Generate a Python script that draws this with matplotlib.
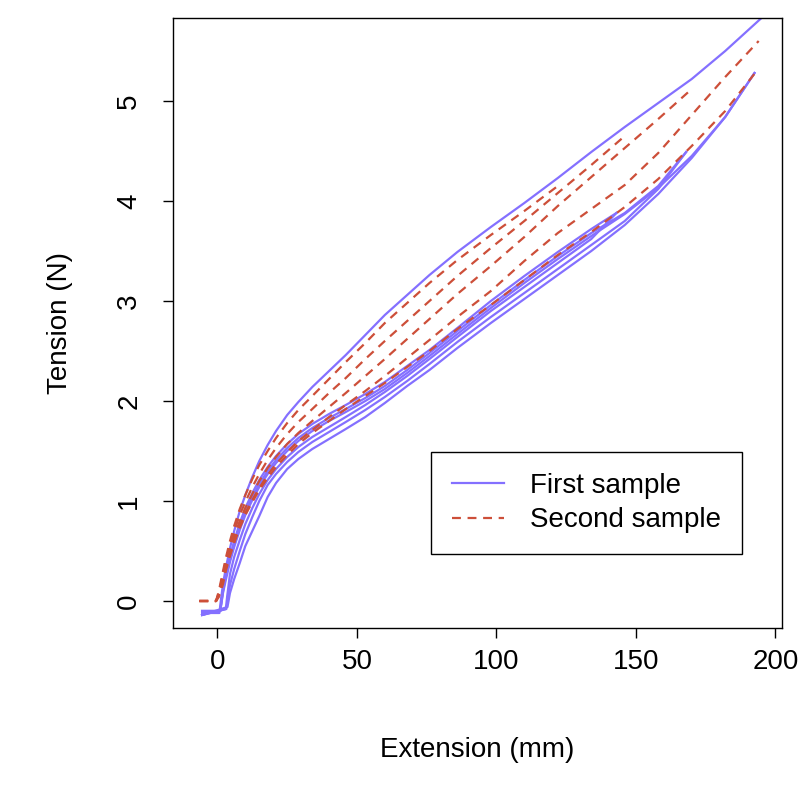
import matplotlib
matplotlib.use("Agg")
import matplotlib.pyplot as plt

plt.rcParams['font.family'] = ['Liberation Sans', 'DejaVu Sans']

# First sample: virgin loading curve, then softened load/unload cycles (to 145, 170, 195 mm)
first_x = [
    [-5.5, 0.7, 1.2, 2, 3, 4.5, 6, 8, 10, 12.5, 15, 18, 21, 25, 29, 34, 40, 46, 53, 60, 68, 76, 86, 98,
     110, 122, 134, 146, 158, 170, 182, 195],
    [-5.5, 1, 2, 3, 4.5, 6, 8, 10, 12.5, 15, 18, 21, 25, 29, 34, 40, 46, 53, 60, 68, 76, 86, 98,
     110, 122, 134, 143],
    [143, 134, 122, 110, 98, 86, 76, 68, 60, 53, 46, 40, 34, 29, 25, 21, 18, 15, 12.5, 10, 8, 6, 4.5,
     3.5, 3, -5.5],
    [-5.5, 1, 2, 3, 4.5, 6, 8, 10, 12.5, 15, 18, 21, 25, 29, 34, 40, 46, 53, 60, 68, 76, 86, 98,
     110, 122, 134, 146, 158, 168],
    [168, 158, 146, 134, 122, 110, 98, 86, 76, 68, 60, 53, 46, 40, 34, 29, 25, 21, 18, 15, 12.5, 10, 8,
     6, 4.5, 3.6, 3.2, -5.5],
    [-5.5, 1, 2, 3, 4.5, 6, 8, 10, 12.5, 15, 18, 21, 25, 29, 34, 40, 46, 53, 60, 68, 76, 86, 98,
     110, 122, 134, 146, 158, 170, 182, 192.5],
    [192.5, 182, 170, 158, 146, 134, 122, 110, 98, 86, 76, 68, 60, 53, 46, 40, 34, 29, 25, 21, 18, 15,
     12.5, 10, 8, 6, 4.5, 3.6, -5.5],
]
first_y = [
    [-0.12, -0.12, 0.0, 0.17, 0.33, 0.53, 0.7, 0.9, 1.06, 1.24, 1.4, 1.56, 1.7, 1.86, 1.99, 2.14, 2.3,
     2.46, 2.66, 2.86, 3.06, 3.26, 3.49, 3.74, 3.98, 4.23, 4.49, 4.74, 4.98, 5.22, 5.5, 5.83],
    [-0.1, -0.1, 0.12, 0.27, 0.45, 0.6, 0.78, 0.93, 1.08, 1.21, 1.34, 1.45, 1.57, 1.67, 1.77, 1.87,
     1.96, 2.07, 2.19, 2.35, 2.51, 2.73, 3.0, 3.25, 3.49, 3.72, 3.88],
    [3.88, 3.62, 3.38, 3.14, 2.9, 2.64, 2.42, 2.25, 2.09, 1.96, 1.84, 1.74, 1.64, 1.54, 1.44, 1.32,
     1.21, 1.07, 0.93, 0.77, 0.61, 0.44, 0.27, 0.05, -0.08, -0.14],
    [-0.1, -0.1, 0.1, 0.24, 0.42, 0.57, 0.74, 0.89, 1.04, 1.17, 1.3, 1.41, 1.53, 1.63, 1.73, 1.83,
     1.92, 2.03, 2.15, 2.31, 2.48, 2.7, 2.96, 3.21, 3.45, 3.68, 3.88, 4.15, 4.49],
    [4.49, 4.12, 3.8, 3.56, 3.32, 3.08, 2.84, 2.59, 2.37, 2.2, 2.04, 1.91, 1.79, 1.69, 1.59, 1.49,
     1.39, 1.27, 1.16, 1.0, 0.84, 0.67, 0.5, 0.32, 0.16, 0.0, -0.08, -0.14],
    [-0.1, -0.1, 0.08, 0.21, 0.39, 0.54, 0.71, 0.86, 1.01, 1.14, 1.27, 1.38, 1.5, 1.6, 1.7, 1.8,
     1.89, 2.0, 2.12, 2.28, 2.45, 2.67, 2.93, 3.18, 3.42, 3.65, 3.87, 4.13, 4.45, 4.84, 5.28],
    [5.28, 4.84, 4.43, 4.07, 3.76, 3.5, 3.26, 3.02, 2.78, 2.53, 2.31, 2.15, 1.98, 1.84, 1.72, 1.62,
     1.52, 1.42, 1.32, 1.18, 1.04, 0.85, 0.7, 0.55, 0.38, 0.22, 0.08, -0.06, -0.14],
]

# Second sample: loading curves to increasing extensions (122, 146, 170, 194 mm) and last reload
second_x = [
    [-6.5, -0.5, 0.5, 2, 3, 4.5, 6, 8, 10, 12.5, 15, 18, 21, 25, 29, 34, 40, 46, 53, 60, 68, 76, 86,
     98, 110, 122],
    [-6.5, -0.5, 0.5, 2, 3, 4.5, 6, 8, 10, 12.5, 15, 18, 21, 25, 29, 34, 40, 46, 53, 60, 68, 76, 86,
     98, 110, 122, 134, 146],
    [-6.5, -0.5, 0.5, 2, 3, 4.5, 6, 8, 10, 12.5, 15, 18, 21, 25, 29, 34, 40, 46, 53, 60, 68, 76, 86,
     98, 110, 122, 134, 146, 158, 170],
    [-6.5, -0.5, 0.5, 2, 3, 4.5, 6, 8, 10, 12.5, 15, 18, 21, 25, 29, 34, 40, 46, 53, 60, 68, 76, 86,
     98, 110, 122, 134, 146, 158, 170, 182, 194],
    [-6.5, -0.5, 0.5, 2, 3, 4.5, 6, 8, 10, 12.5, 15, 18, 21, 25, 29, 34, 40, 46, 53, 60, 68, 76, 86,
     98, 110, 122, 134, 146, 158, 170, 182, 193],
]
second_y = [
    [0, 0, 0.1, 0.3, 0.43, 0.6, 0.75, 0.92, 1.06, 1.22, 1.36, 1.5, 1.63, 1.78, 1.91, 2.05, 2.22, 2.39,
     2.58, 2.78, 2.98, 3.18, 3.41, 3.66, 3.9, 4.15],
    [0, 0, 0.08, 0.27, 0.4, 0.56, 0.7, 0.86, 0.99, 1.14, 1.27, 1.41, 1.53, 1.67, 1.79, 1.92, 2.08,
     2.23, 2.42, 2.6, 2.8, 3.0, 3.25, 3.53, 3.8, 4.08, 4.36, 4.65],
    [0, 0, 0.07, 0.24, 0.36, 0.52, 0.65, 0.8, 0.93, 1.07, 1.2, 1.33, 1.44, 1.57, 1.68, 1.8, 1.94,
     2.08, 2.25, 2.42, 2.62, 2.82, 3.07, 3.35, 3.64, 3.95, 4.24, 4.53, 4.82, 5.12],
    [0, 0, 0.06, 0.21, 0.33, 0.48, 0.61, 0.75, 0.88, 1.01, 1.13, 1.26, 1.37, 1.49, 1.6, 1.71, 1.84,
     1.96, 2.1, 2.25, 2.43, 2.61, 2.84, 3.1, 3.4, 3.68, 3.92, 4.16, 4.48, 4.86, 5.24, 5.6],
    [0, 0, 0.04, 0.17, 0.3, 0.45, 0.58, 0.73, 0.86, 0.99, 1.11, 1.23, 1.34, 1.46, 1.57, 1.68, 1.8,
     1.92, 2.05, 2.18, 2.34, 2.5, 2.72, 2.96, 3.21, 3.46, 3.69, 3.94, 4.22, 4.55, 4.9, 5.29],
]

labels = ['First sample', 'Second sample']
x_ticks = [0, 50, 100, 150, 200]
y_ticks = [0, 1, 2, 3, 4, 5]

blue = '#8470FF'
red = '#CD4F39'

fig = plt.figure(figsize=(8, 8), dpi=100)
ax = fig.add_axes([0.216, 0.215, 0.762, 0.7625])

for i, (xs, ys) in enumerate(zip(first_x, first_y)):
    ax.plot(xs, ys, color=blue, lw=1.6, label=labels[0] if i == 0 else None)
for i, (xs, ys) in enumerate(zip(second_x, second_y)):
    ax.plot(xs, ys, color=red, lw=1.6, dashes=(4, 3),
            label=labels[1] if i == 0 else None)

ax.set_xlim(-16, 202.5)
ax.set_ylim(-0.27, 5.83)
ax.set_xticks(x_ticks)
ax.set_yticks(y_ticks)
ax.tick_params(labelsize=20, length=7, width=1)
ax.tick_params(axis='x', pad=8)
ax.tick_params(axis='y', pad=15)
for lab in ax.get_yticklabels():
    lab.set_rotation(90)
    lab.set_va('center')
ax.set_xlabel('Extension (mm)', fontsize=20, labelpad=45)
ax.set_ylabel('Tension (N)', fontsize=20, labelpad=31)
for s in ax.spines.values():
    s.set_linewidth(1)

leg = ax.legend(loc='lower right', bbox_to_anchor=(0.934, 0.121), fontsize=20,
                handlelength=1.9, handletextpad=0.93, borderpad=0.75,
                labelspacing=0.3, borderaxespad=0, fancybox=False,
                framealpha=1, edgecolor='black')
leg.get_frame().set_linewidth(1)

fig.savefig('out.png', dpi=100)
